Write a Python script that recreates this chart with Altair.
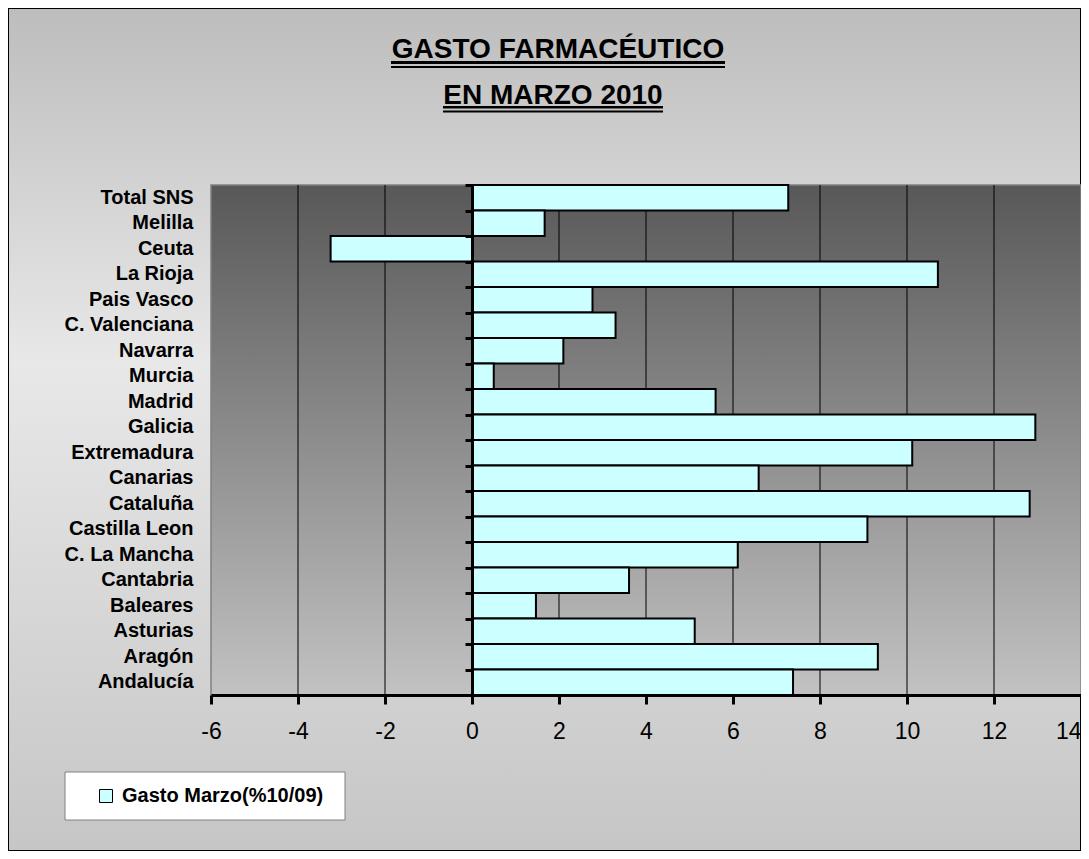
import altair as alt
import pandas as pd

regions = ["Total SNS", "Melilla", "Ceuta", "La Rioja", "Pais Vasco", "C. Valenciana",
           "Navarra", "Murcia", "Madrid", "Galicia", "Extremadura", "Canarias",
           "Cataluña", "Castilla Leon", "C. La Mancha", "Cantabria", "Baleares",
           "Asturias", "Aragón", "Andalucía"]
values = [7.27, 1.67, -3.25, 10.71, 2.77, 3.30, 2.10, 0.50, 5.60, 12.95, 10.12, 6.59,
          12.82, 9.09, 6.11, 3.61, 1.47, 5.12, 9.33, 7.38]
series_name = "Gasto Marzo(%10/09)"
x_ticks = [-6, -4, -2, 0, 2, 4, 6, 8, 10, 12, 14]
grid_vals = [-4, -2, 2, 4, 6, 8, 10, 12]
title_lines = ["GASTO FARMACÉUTICO", "EN MARZO 2010"]

W, H = 870, 510
PAD_L, PAD_T, PAD_R, PAD_B = 203, 177, 0, 156

df = pd.DataFrame({"region": regions, "valor": values, "serie": [series_name] * len(regions)})
grid_df = pd.DataFrame({"g": grid_vals})
one = pd.DataFrame({"a": [0]})

FONT = "Liberation Sans, Arial, sans-serif"

xscale = alt.Scale(domain=[-6, 14], nice=False, zero=False)
yscale = alt.Scale(paddingInner=0, paddingOuter=0)

xaxis = alt.Axis(values=x_ticks, title=None, grid=False, domain=True, domainColor="black",
                 domainWidth=3, ticks=True, tickColor="black", tickWidth=3, tickSize=9,
                 labelFont=FONT, labelFontSize=23, labelColor="black", labelPadding=16,
                 labelExpr="'' + datum.value",
                 labelAlign={"condition": {"test": "datum.value == 14", "value": "right"},
                             "value": "center"},
                 labelFlush=False, zindex=2)

bg = alt.Chart(one).mark_rect(
    fill=alt.Gradient(gradient="linear", x1=0, y1=0, x2=0, y2=1,
                      stops=[alt.GradientStop(offset=0, color="#bdbdbd"),
                             alt.GradientStop(offset=0.42, color="#e8e8e8"),
                             alt.GradientStop(offset=1, color="#c6c6c6")]),
    stroke="black", strokeWidth=2
).encode(x=alt.value(-PAD_L), x2=alt.value(W + PAD_R), y=alt.value(-PAD_T), y2=alt.value(H + PAD_B))

plotbg = alt.Chart(one).mark_rect(
    fill=alt.Gradient(gradient="linear", x1=0, y1=0, x2=0, y2=1,
                      stops=[alt.GradientStop(offset=0, color="#585858"),
                             alt.GradientStop(offset=1, color="#c2c2c2")]),
    stroke="#808080", strokeWidth=1.5
).encode(x=alt.value(0), x2=alt.value(W), y=alt.value(0), y2=alt.value(H))

legend_box = alt.Chart(one).mark_rect(fill="white", stroke="#808080", strokeWidth=1).encode(
    x=alt.value(-146), x2=alt.value(134), y=alt.value(587), y2=alt.value(635))

grid = alt.Chart(grid_df).mark_rule(color="black", strokeWidth=1).encode(
    x=alt.X("g:Q", scale=xscale, axis=xaxis)
)

bars = alt.Chart(df).mark_bar(stroke="black", strokeWidth=2, opacity=1).encode(
    y=alt.Y("region:N", sort=regions, scale=yscale,
            axis=alt.Axis(title=None, domain=False, ticks=False, labelFont=FONT,
                          labelFontSize=20, labelFontWeight="bold", labelColor="black",
                          labelPadding=18, labelLimit=300, zindex=2)),
    x=alt.X("valor:Q", scale=xscale, axis=xaxis),
    color=alt.Color("serie:N", scale=alt.Scale(domain=[series_name], range=["#CCFFFF"]),
                    legend=alt.Legend(title=None, orient="none", legendX=-115, legendY=601,
                                      padding=0, symbolType="square", symbolSize=169,
                                      symbolStrokeColor="black", symbolStrokeWidth=1,
                                      labelFont=FONT, labelFontSize=20, labelLimit=400,
                                      labelFontWeight="bold", labelColor="black",
                                      labelOffset=6, zindex=2)),
)

zero_axis = alt.Chart(df).mark_point(opacity=0).encode(
    y=alt.Y("region:N", sort=regions, scale=yscale,
            axis=alt.Axis(orient="left", offset=-(W * 6 / 20), title=None, labels=False,
                          ticks=True, tickBand="extent", tickSize=7, tickWidth=3,
                          tickColor="black", domain=True, domainWidth=3,
                          domainColor="black", zindex=3)),
    x=alt.value(0),
)

t1 = alt.Chart(one).mark_text(font=FONT, fontSize=28, fontWeight="bold", color="black",
                              align="center", baseline="alphabetic").encode(
    x=alt.value(347), y=alt.value(-127), text=alt.value(title_lines[0]))
t2 = alt.Chart(one).mark_text(font=FONT, fontSize=28, fontWeight="bold", color="black",
                              align="center", baseline="alphabetic").encode(
    x=alt.value(342), y=alt.value(-81), text=alt.value(title_lines[1]))

u1a = alt.Chart(one).mark_rule(color="black", strokeWidth=3).encode(
    x=alt.value(180), x2=alt.value(514), y=alt.value(-122.5))
u1b = alt.Chart(one).mark_rule(color="black", strokeWidth=2).encode(
    x=alt.value(180), x2=alt.value(514), y=alt.value(-118))
u2a = alt.Chart(one).mark_rule(color="black", strokeWidth=2.5).encode(
    x=alt.value(232), x2=alt.value(452), y=alt.value(-77.7))
u2b = alt.Chart(one).mark_rule(color="black", strokeWidth=2).encode(
    x=alt.value(232), x2=alt.value(452), y=alt.value(-73.5))

chart = alt.layer(bg, plotbg, legend_box, grid, bars, zero_axis, t1, t2, u1a, u1b, u2a, u2b).resolve_axis(
    y="independent"
).properties(
    width=W, height=H,
    autosize=alt.AutoSizeParams(type="none"),
    padding={"left": PAD_L, "top": PAD_T, "right": PAD_R, "bottom": PAD_B},
).configure_view(stroke=None).configure(background="white")

chart.save("out.html", embed_options={"renderer": "svg", "actions": False})
